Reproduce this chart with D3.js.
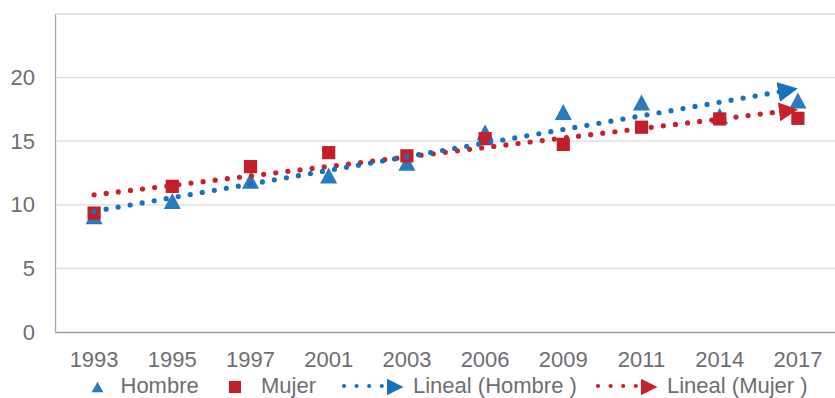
<!DOCTYPE html>
<html>
<head>
<meta charset="utf-8">
<script src="https://cdn.jsdelivr.net/npm/d3@7"></script>
<style>
  html, body { margin: 0; padding: 0; background: #fff; }
  svg { display: block; font-family: "Liberation Sans", Arial, sans-serif; }
</style>
</head>
<body>
<svg id="chart" width="835" height="398"></svg>
<script>
// Survey years on the category axis
const years = ["1993", "1995", "1997", "2001", "2003", "2006", "2009", "2011", "2014", "2017"];
// Values per sex
const hombre = [9.1, 10.3, 11.9, 12.3, 13.3, 15.7, 17.3, 18.05, 17.0, 18.2];
const mujer  = [9.35, 11.45, 13.0, 14.1, 13.85, 15.2, 14.75, 16.1, 16.75, 16.8];
// Value axis ticks
const yTicks = [0, 5, 10, 15, 20];
const yMax = 25;

const blueMark = "#2a7abf", blueLine = "#1872ba";
const redMark = "#c21f2a", redLine = "#c8202c";
const textGray = "#6e6e72";
const fontSize = 22;

const svg = d3.select("#chart");
const plotL = 55, plotR = 837, plotT = 14, plotB = 332;

const x = d3.scaleBand().domain(years).range([plotL, plotR]);
const y = d3.scaleLinear().domain([0, yMax]).range([plotB, plotT]);
const cx = d => x(d) + x.bandwidth() / 2;

// Gridlines
svg.append("g").selectAll("line")
  .data(d3.range(5, yMax + 1, 5))
  .join("line")
  .attr("x1", plotL).attr("x2", plotR)
  .attr("y1", d => y(d)).attr("y2", d => y(d))
  .attr("stroke", "#dcdcdc").attr("stroke-width", 1.3);

// Axes
const yAxis = d3.axisLeft(y).tickValues(yTicks).tickSize(0).tickPadding(20);
const gy = svg.append("g").attr("transform", `translate(${plotL},0)`).call(yAxis);
gy.select(".domain").attr("stroke", "#a8a8aa").attr("stroke-width", 1.3);
gy.selectAll("text").attr("font-size", fontSize).attr("fill", textGray)
  .attr("font-family", "Liberation Sans, Arial, sans-serif");

const xAxis = d3.axisBottom(x).tickSize(0).tickPadding(19);
const gx = svg.append("g").attr("transform", `translate(0,${plotB})`).call(xAxis);
gx.select(".domain").attr("stroke", "#a0a0a2").attr("stroke-width", 1.6);
gx.selectAll("text").attr("font-size", fontSize).attr("fill", textGray)
  .attr("font-family", "Liberation Sans, Arial, sans-serif");

// Arrowhead markers for the trend lines
const defs = svg.append("defs");
function arrow(id, color, size) {
  defs.append("marker")
    .attr("id", id)
    .attr("markerUnits", "userSpaceOnUse")
    .attr("viewBox", "0 0 10 10")
    .attr("refX", 10).attr("refY", 5)
    .attr("markerWidth", size).attr("markerHeight", size)
    .attr("orient", "auto")
    .append("path").attr("d", "M0,0 L10,5 L0,10 Z").attr("fill", color);
}
arrow("arrBlue", blueLine, 20);
arrow("arrRed", redLine, 19);

// Point markers (centred on their bounding box)
const triPath = (w, h) => `M0,${-h / 2} L${w / 2},${h / 2} L${-w / 2},${h / 2} Z`;

svg.append("g").selectAll("path")
  .data(years.map((yr, i) => [yr, hombre[i]]))
  .join("path")
  .attr("d", triPath(17, 16))
  .attr("transform", d => `translate(${cx(d[0])},${y(d[1])})`)
  .attr("fill", blueMark);

svg.append("g").selectAll("rect")
  .data(years.map((yr, i) => [yr, mujer[i]]))
  .join("rect")
  .attr("x", d => cx(d[0]) - 6.6).attr("y", d => y(d[1]) - 6.6)
  .attr("width", 13.2).attr("height", 13.2)
  .attr("fill", redMark);

// Least-squares linear trend over category positions 1..n
function linearFit(vals) {
  const n = vals.length;
  const xs = d3.range(1, n + 1);
  const mx = d3.mean(xs), my = d3.mean(vals);
  const sxy = d3.sum(xs, (v, i) => (v - mx) * (vals[i] - my));
  const sxx = d3.sum(xs, v => (v - mx) ** 2);
  const b = sxy / sxx, a = my - b * mx;
  return [a + b * 1, a + b * n];
}

function trend(vals, color, markerId) {
  const [v0, v1] = linearFit(vals);
  const line = d3.line().x(d => d[0]).y(d => d[1]);
  const pts = [[cx(years[0]), y(v0)], [cx(years[years.length - 1]), y(v1)]];
  // dotted body, stopping short of the arrowhead
  const dx = pts[1][0] - pts[0][0], dy = pts[1][1] - pts[0][1];
  const len = Math.hypot(dx, dy);
  const cut = 16;
  const endBody = [pts[1][0] - dx / len * cut, pts[1][1] - dy / len * cut];
  svg.append("path")
    .attr("d", line([pts[0], endBody]))
    .attr("stroke", color).attr("stroke-width", 5.2)
    .attr("stroke-linecap", "round")
    .attr("stroke-dasharray", "0 12.2")
    .attr("fill", "none");
  // arrowhead
  svg.append("path")
    .attr("d", line([endBody, pts[1]]))
    .attr("stroke", "none").attr("fill", "none")
    .attr("marker-end", `url(#${markerId})`);
}
trend(mujer, redLine, "arrRed");
trend(hombre, blueLine, "arrBlue");

// Legend
const lg = svg.append("g").attr("font-size", fontSize).attr("fill", textGray);
const ly = 387;
const tby = 392.5; // text baseline
lg.append("path").attr("d", triPath(11.7, 10.5))
  .attr("transform", `translate(97.5,${ly})`).attr("fill", blueMark);
lg.append("text").attr("x", 120.5).attr("y", tby).text("Hombre");
lg.append("rect").attr("x", 229).attr("y", ly - 6).attr("width", 12).attr("height", 12)
  .attr("fill", redMark);
lg.append("text").attr("x", 261).attr("y", tby).text("Mujer");

function legendTrend(x0, color, label) {
  lg.append("line").attr("x1", x0).attr("x2", x0 + 38).attr("y1", ly - 1).attr("y2", ly - 1)
    .attr("stroke", color).attr("stroke-width", 4.2)
    .attr("stroke-linecap", "round").attr("stroke-dasharray", "0 12.6");
  lg.append("path").attr("d", `M${x0 + 43},${ly - 8.2} L${x0 + 59.5},${ly} L${x0 + 43},${ly + 8.2} Z`)
    .attr("fill", color);
  lg.append("text").attr("x", x0 + 69).attr("y", tby).text(label);
}
legendTrend(344, blueLine, "Lineal (Hombre )");
legendTrend(598, redLine, "Lineal (Mujer )");
</script>
</body>
</html>
